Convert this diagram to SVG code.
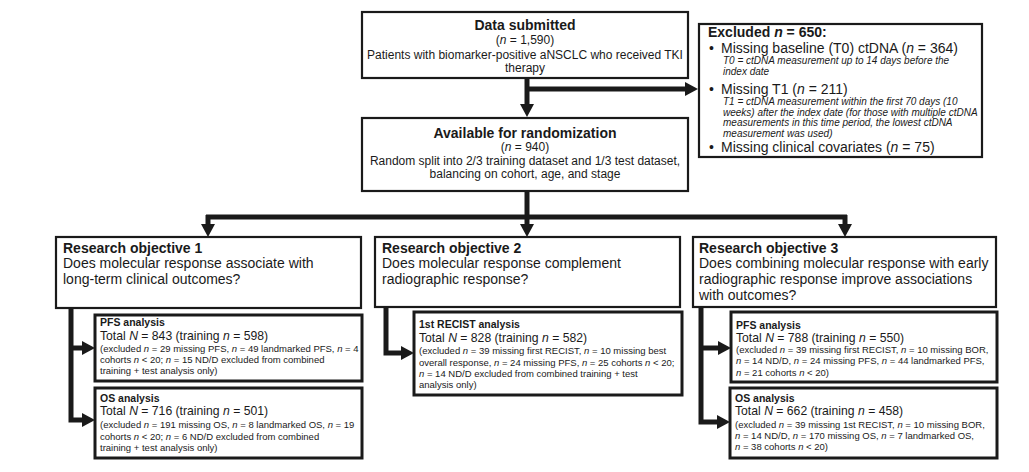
<svg xmlns="http://www.w3.org/2000/svg" width="1029" height="472" viewBox="0 0 1029 472">
<style>
text{font-family:"Liberation Sans",Arial,sans-serif;fill:#1a1a1a}
.box{fill:#fff;stroke:#1a1a1a;stroke-width:2.2}
.sub{fill:#fff;stroke:#1a1a1a;stroke-width:3}
.t14b{font-size:14px;font-weight:bold}
.t14{font-size:14px}
.t12{font-size:12px}
.c{text-anchor:middle}
.it{font-style:italic}
.ti{font-size:10px;font-style:italic}
.st{font-size:10.5px;font-weight:bold}
.tt{font-size:12.2px}
.sm{font-size:9.5px}
.con{fill:none;stroke:#1a1a1a;stroke-width:5;stroke-linejoin:miter}
</style>
<defs>
<marker id="ah" markerUnits="userSpaceOnUse" markerWidth="13" markerHeight="14" viewBox="0 0 13 14" refX="1" refY="7" orient="auto">
<path d="M0,0 L13,7 L0,14 z" fill="#1a1a1a"/>
</marker>
</defs>
<rect width="1029" height="472" fill="#fff"/>
<g id="connectors">
<path class="con" d="M527,78 V105" marker-end="url(#ah)"/>
<path class="con" d="M527,89 H686" marker-end="url(#ah)"/>
<path class="con" d="M527,191 V217"/>
<path class="con" d="M206,217 H847"/>
<path class="con" d="M208,215 V225" marker-end="url(#ah)"/>
<path class="con" d="M527,215 V225" marker-end="url(#ah)"/>
<path class="con" d="M845,215 V225" marker-end="url(#ah)"/>
<path class="con" d="M71,308 V420 H83" marker-end="url(#ah)"/>
<path class="con" d="M71,348 H83" marker-end="url(#ah)"/>
<path class="con" d="M386,307 V353 H402" marker-end="url(#ah)"/>
<path class="con" d="M701,307 V422 H718" marker-end="url(#ah)"/>
<path class="con" d="M701,348 H719" marker-end="url(#ah)"/>
</g>
<g id="data-submitted">
<rect class="box" x="362" y="12" width="326" height="66"/>
<text class="t14b c" x="525" y="30">Data submitted</text>
<text class="t12 c" x="525" y="44">(<tspan class="it">n</tspan> = 1,590)</text>
<text class="t12 c" x="525" y="59">Patients with biomarker-positive aNSCLC who received TKI</text>
<text class="t12 c" x="525" y="72">therapy</text>
</g>
<g id="excluded">
<rect class="box" x="699" y="24" width="283" height="133"/>
<text class="t14b" x="708" y="37">Excluded <tspan class="it">n</tspan> = 650:</text>
<text class="t14" x="709" y="53">•</text>
<text class="t14" x="721" y="53">Missing baseline (T0) ctDNA (<tspan class="it">n</tspan> = 364)</text>
<text class="ti" x="723" y="64">T0 = ctDNA measurement up to 14 days before the</text>
<text class="ti" x="723" y="74.5">index date</text>
<text class="t14" x="709" y="94">•</text>
<text class="t14" x="721" y="94">Missing T1 (<tspan class="it">n</tspan> = 211)</text>
<text class="ti" x="723" y="105">T1 = ctDNA measurement within the first 70 days (10</text>
<text class="ti" x="723" y="115.5">weeks) after the index date (for those with multiple ctDNA</text>
<text class="ti" x="723" y="126">measurements in this time period, the lowest ctDNA</text>
<text class="ti" x="723" y="136.5">measurement was used)</text>
<text class="t14" x="709" y="152">•</text>
<text class="t14" x="721" y="152">Missing clinical covariates (<tspan class="it">n</tspan> = 75)</text>
</g>
<g id="available">
<rect class="box" x="362" y="118" width="326" height="73"/>
<text class="t14b c" x="525" y="138">Available for randomization</text>
<text class="t12 c" x="525" y="151">(<tspan class="it">n</tspan> = 940)</text>
<text class="t12 c" x="525" y="165">Random split into 2/3 training dataset and 1/3 test dataset,</text>
<text class="t12 c" x="525" y="178">balancing on cohort, age, and stage</text>
</g>
<g id="ro1">
<rect class="box" x="56" y="237" width="305" height="71"/>
<text class="t14b" x="63" y="253">Research objective 1</text>
<text class="t14" x="63" y="268">Does molecular response associate with</text>
<text class="t14" x="63" y="284">long-term clinical outcomes?</text>
</g>
<g id="ro2">
<rect class="box" x="375" y="237" width="305" height="70"/>
<text class="t14b" x="382" y="253">Research objective 2</text>
<text class="t14" x="382" y="268">Does molecular response complement</text>
<text class="t14" x="382" y="284">radiographic response?</text>
</g>
<g id="ro3">
<rect class="box" x="693" y="237" width="303" height="70"/>
<text class="t14b" x="699" y="253">Research objective 3</text>
<text class="t14" x="699" y="268">Does combining molecular response with early</text>
<text class="t14" x="699" y="284">radiographic response improve associations</text>
<text class="t14" x="699" y="300">with outcomes?</text>
</g>
<g id="ro1-pfs">
<rect class="sub" x="95" y="315" width="267" height="66"/>
<text class="st" x="100" y="326">PFS analysis</text>
<text class="tt" x="100" y="340">Total <tspan class="it">N</tspan> = 843 (training <tspan class="it">n</tspan> = 598)</text>
<text class="sm" x="100" y="352">(excluded <tspan class="it">n</tspan> = 29 missing PFS, <tspan class="it">n</tspan> = 49 landmarked PFS, <tspan class="it">n</tspan> = 4</text>
<text class="sm" x="100" y="363">cohorts <tspan class="it">n</tspan> &lt; 20; <tspan class="it">n</tspan> = 15 ND/D excluded from combined</text>
<text class="sm" x="100" y="374">training + test analysis only)</text>
</g>
<g id="ro1-os">
<rect class="sub" x="95" y="388" width="267" height="70"/>
<text class="st" x="100" y="402">OS analysis</text>
<text class="tt" x="100" y="415">Total <tspan class="it">N</tspan> = 716 (training <tspan class="it">n</tspan> = 501)</text>
<text class="sm" x="100" y="428">(excluded <tspan class="it">n</tspan> = 191 missing OS, <tspan class="it">n</tspan> = 8 landmarked OS, <tspan class="it">n</tspan> = 19</text>
<text class="sm" x="100" y="440">cohorts <tspan class="it">n</tspan> &lt; 20; <tspan class="it">n</tspan> = 6 ND/D excluded from combined</text>
<text class="sm" x="100" y="451">training + test analysis only)</text>
</g>
<g id="ro2-recist">
<rect class="sub" x="414" y="312" width="268" height="83"/>
<text class="st" x="419" y="328">1st RECIST analysis</text>
<text class="tt" x="419" y="342">Total <tspan class="it">N</tspan> = 828 (training <tspan class="it">n</tspan> = 582)</text>
<text class="sm" x="419" y="354">(excluded <tspan class="it">n</tspan> = 39 missing first RECIST, <tspan class="it">n</tspan> = 10 missing best</text>
<text class="sm" x="419" y="366">overall response, <tspan class="it">n</tspan> = 24 missing PFS, <tspan class="it">n</tspan> = 25 cohorts <tspan class="it">n</tspan> &lt; 20;</text>
<text class="sm" x="419" y="377"><tspan class="it">n</tspan> = 14 ND/D excluded from combined training + test</text>
<text class="sm" x="419" y="388">analysis only)</text>
</g>
<g id="ro3-pfs">
<rect class="sub" x="731" y="312" width="266" height="70"/>
<text class="st" x="736" y="329">PFS analysis</text>
<text class="tt" x="736" y="342">Total <tspan class="it">N</tspan> = 788 (training <tspan class="it">n</tspan> = 550)</text>
<text class="sm" x="736" y="353">(excluded <tspan class="it">n</tspan> = 39 missing first RECIST, <tspan class="it">n</tspan> = 10 missing BOR,</text>
<text class="sm" x="736" y="364"><tspan class="it">n</tspan> = 14 ND/D, <tspan class="it">n</tspan> = 24 missing PFS, <tspan class="it">n</tspan> = 44 landmarked PFS,</text>
<text class="sm" x="736" y="376"><tspan class="it">n</tspan> = 21 cohorts <tspan class="it">n</tspan> &lt; 20)</text>
</g>
<g id="ro3-os">
<rect class="sub" x="730" y="388" width="267" height="70"/>
<text class="st" x="735" y="402">OS analysis</text>
<text class="tt" x="735" y="415">Total <tspan class="it">N</tspan> = 662 (training <tspan class="it">n</tspan> = 458)</text>
<text class="sm" x="735" y="428">(excluded <tspan class="it">n</tspan> = 39 missing 1st RECIST, <tspan class="it">n</tspan> = 10 missing BOR,</text>
<text class="sm" x="735" y="439"><tspan class="it">n</tspan> = 14 ND/D, <tspan class="it">n</tspan> = 170 missing OS, <tspan class="it">n</tspan> = 7 landmarked OS,</text>
<text class="sm" x="735" y="450"><tspan class="it">n</tspan> = 38 cohorts <tspan class="it">n</tspan> &lt; 20)</text>
</g>
</svg>
